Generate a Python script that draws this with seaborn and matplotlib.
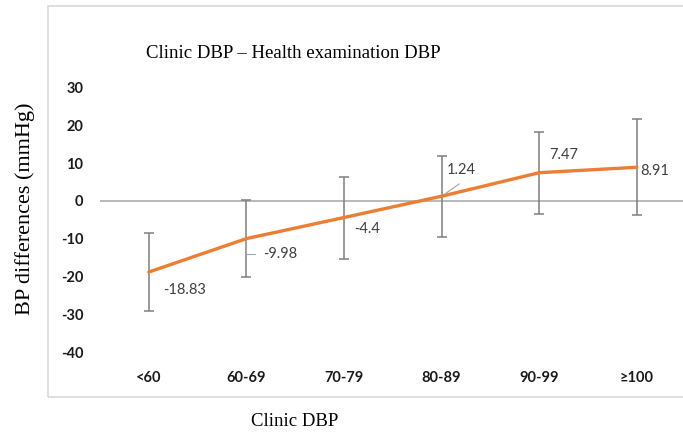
import matplotlib
matplotlib.use("Agg")
import matplotlib.pyplot as plt
import numpy as np
import pandas as pd
import seaborn as sns
from matplotlib.patches import Rectangle

# Values.
CATEGORIES = ["<60", "60-69", "70-79", "80-89", "90-99", "≥100"]
MEAN_DIFF = [-18.83, -9.98, -4.4, 1.24, 7.47, 8.91]
SD_DIFF = [10.35, 10.2, 10.85, 10.7, 10.9, 12.65]
Y_TICKS = [-40, -30, -20, -10, 0, 10, 20, 30]

LINE_COLOR = "#ED7D31"
BAR_COLOR = "#7F7F7F"
LABEL_COLOR = "#404040"

sns.set_theme(style="white")
plt.rcParams["font.family"] = ["Lato", "DejaVu Sans"]

W, H = 683, 434
fig = plt.figure(figsize=(W / 100, H / 100), dpi=100)
ax = fig.add_axes([100 / W, (H - 352) / H, 585.6 / W, 264.4 / H])

# light chart-area border like the spreadsheet export
fig.patches.append(Rectangle((48 / W, (H - 397) / H), 700 / W, 391 / H,
                             transform=fig.transFigure, fill=False,
                             edgecolor="#D9D9D9", linewidth=1.2))

df = pd.DataFrame({"group": CATEGORIES, "diff": MEAN_DIFF, "sd": SD_DIFF})
pos = np.arange(len(df))

ax.axhline(0, color="#A6A6A6", linewidth=1.1, zorder=1)
ax.errorbar(pos, df["diff"], yerr=df["sd"], fmt="none", ecolor=BAR_COLOR,
            elinewidth=1.1, capsize=3.5, capthick=1.1, zorder=2)
sns.lineplot(x=pos, y=df["diff"], color=LINE_COLOR, linewidth=2.4, ax=ax, zorder=3)

ax.set_xlim(-0.5, len(df) - 0.5)
ax.set_ylim(-40, 30)
ax.set_yticks(Y_TICKS)
ax.set_yticklabels([str(t) for t in Y_TICKS])
ax.set_xticks(pos)
ax.set_xticklabels(df["group"])
ax.tick_params(axis="both", length=0, labelsize=10.5)
ax.tick_params(axis="y", pad=12)
ax.tick_params(axis="x", pad=14)
for lab in ax.get_xticklabels() + ax.get_yticklabels():
    lab.set_fontweight("bold")
    lab.set_color("#1A1A1A")
for side in ax.spines.values():
    side.set_visible(False)
ax.set_xlabel("")
ax.set_ylabel("")

# data labels (offsets in pixels from each point)
offsets = [(14, -18), (17, -15), (10, -11), (5, 26), (10, 18), (3, -4)]
for x, y, (dx, dy) in zip(pos, df["diff"], offsets):
    ax.annotate(f"{y:g}", (x, y), xytext=(dx, dy), textcoords="offset pixels",
                ha="left", va="center", fontsize=10.5, color=LABEL_COLOR)

# leader lines for -9.98 and 1.24
ax.annotate("", (1, MEAN_DIFF[1]), xytext=(11, -15), textcoords="offset pixels",
            arrowprops=dict(arrowstyle="-", color="#A6A6A6", lw=0.8,
                            connectionstyle="angle,angleA=0,angleB=90,rad=0"))
ax.annotate("", (3, MEAN_DIFF[3]), xytext=(20, 14), textcoords="offset pixels",
            arrowprops=dict(arrowstyle="-", color="#A6A6A6", lw=0.8))

serif = ["Liberation Serif", "DejaVu Serif"]
fig.text(293 / W, 1 - 54 / H, "Clinic DBP – Health examination DBP",
         ha="center", va="center", fontsize=13.5, family=serif, color="#000000")
fig.text(295 / W, 1 - 421 / H, "Clinic DBP", ha="center", va="center",
         fontsize=13.5, family=serif, color="#000000")
fig.text(25 / W, 1 - 209 / H, "BP differences (mmHg)", ha="center", va="center",
         rotation=90, fontsize=16, family=serif, color="#000000")

fig.savefig("out.png", dpi=100)
